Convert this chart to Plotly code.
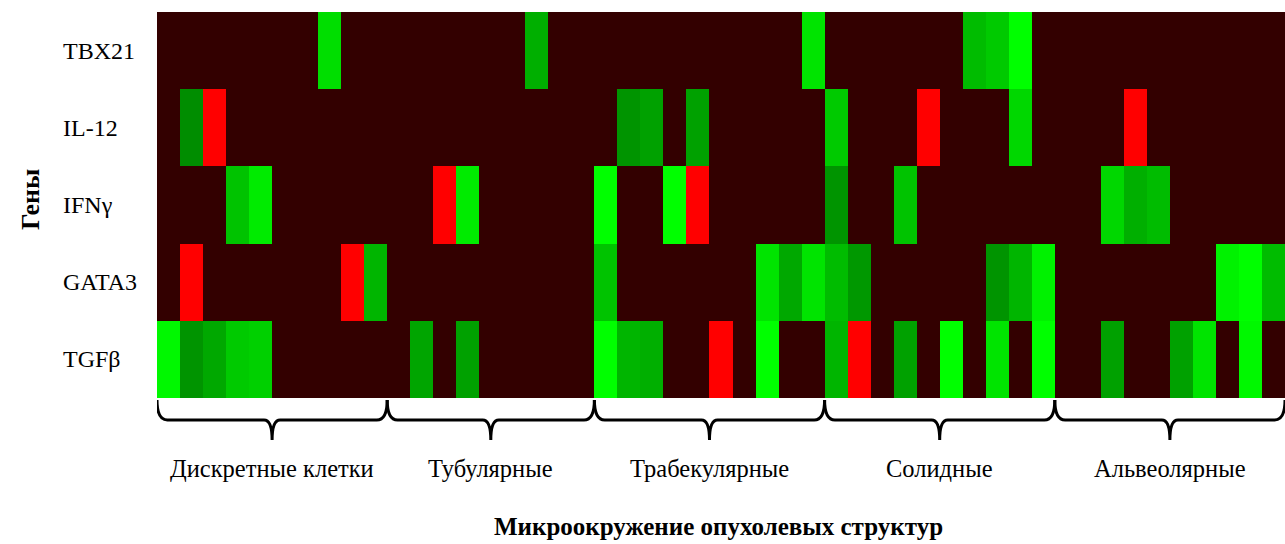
import plotly.graph_objects as go

# ---------------- data ----------------
genes = ["TBX21", "IL-12", "IFNγ", "GATA3", "TGFβ"]
groups = ["Дискретные клетки", "Тубулярные", "Трабекулярные", "Солидные", "Альвеолярные"]
group_sizes = [10, 9, 10, 10, 10]

# expression level per sample (-1 = down / red, 0 = none, 1..10 = up / green intensity)
tbx21 = ([0, 0, 0, 0, 0, 0, 0, 7.5, 0, 0] + [0, 0, 0, 0, 0, 0, 4, 0, 0] +
         [0, 0, 0, 0, 0, 0, 0, 0, 0, 8] + [0, 0, 0, 0, 0, 0, 5, 6, 10, 0] +
         [0, 0, 0, 0, 0, 0, 0, 0, 0, 0])
il12 = ([0, 1.5, -1, 0, 0, 0, 0, 0, 0, 0] + [0, 0, 0, 0, 0, 0, 0, 0, 0] +
        [0, 2, 3, 0, 3, 0, 0, 0, 0, 0] + [6, 0, 0, 0, -1, 0, 0, 0, 7, 0] +
        [0, 0, 0, -1, 0, 0, 0, 0, 0, 0])
ifng = ([0, 0, 0, 5.5, 8.5, 0, 0, 0, 0, 0] + [0, 0, -1, 8.5, 0, 0, 0, 0, 0] +
        [10, 0, 0, 10, -1, 0, 0, 0, 0, 0] + [2, 0, 0, 5.5, 0, 0, 0, 0, 0, 0] +
        [0, 0, 7, 4, 5, 0, 0, 0, 0, 0])
gata3 = ([0, -1, 0, 0, 0, 0, 0, 0, -1, 4.5] + [0, 0, 0, 0, 0, 0, 0, 0, 0] +
         [5.5, 0, 0, 0, 0, 0, 0, 8, 3.5, 8] + [5, 2.3, 0, 0, 0, 0, 0, 2, 4.5, 9] +
         [0, 0, 0, 0, 0, 0, 0, 9, 10, 5])
tgfb = ([9.5, 2, 3.5, 6, 6.5, 0, 0, 0, 0, 0] + [0, 3.3, 0, 3, 0, 0, 0, 0, 0] +
        [10, 4.5, 4, 0, 0, -1, 0, 10, 0, 0] + [4.5, -1, 0, 3, 0, 10, 0, 8, 0, 10] +
        [0, 0, 3, 0, 0, 3, 8, 0, 9.5, 0])

z = [tbx21, il12, ifng, gata3, tgfb]
n_cols = len(tbx21)
x_idx = list(range(n_cols))

# ---------------- colours ----------------
zmin, zmax = -1, 10
def nz(v):
    return (v - zmin) / (zmax - zmin)

colorscale = [
    [0.0, "#ff0000"], [nz(-0.5), "#ff0000"],
    [nz(-0.5), "#330000"], [nz(0.5), "#330000"],
    [nz(0.5), "#008000"], [1.0, "#00ff00"],
]

fig = go.Figure(go.Heatmap(
    z=z, x=x_idx, y=genes,
    zmin=zmin, zmax=zmax, colorscale=colorscale,
    showscale=False, xgap=0, ygap=0, hoverinfo="skip",
))

W, H = 1285, 544
L, R, T = 157, 0, 12
B = H - 398
plot_w = W - L - R
plot_h = H - T - B

def py(pix):  # pixel y (from top) -> paper y
    return (H - B - pix) / plot_h

def px(pix):  # pixel x -> paper x
    return (pix - L) / plot_w

serif = "Liberation Serif, Times New Roman, serif"

# gene labels (left aligned)
annotations = []
for g in genes:
    annotations.append(dict(text=g, x=px(61), xref="paper", xanchor="left",
                            y=g, yref="y", yanchor="middle", showarrow=False,
                            font=dict(family=serif, size=24, color="#000")))

# braces + group labels
shapes = []
start = -0.5
y_top, y_mid, y_bot = py(400), py(420), py(440)
for name, n in zip(groups, group_sizes):
    a, b = start, start + n
    c = (a + b) / 2
    path = (f"M {a},{y_top} Q {a},{y_mid} {a+0.45},{y_mid} "
            f"L {c-0.35},{y_mid} Q {c},{y_mid} {c},{y_bot} "
            f"Q {c},{y_mid} {c+0.35},{y_mid} "
            f"L {b-0.45},{y_mid} Q {b},{y_mid} {b},{y_top}")
    shapes.append(dict(type="path", path=path, xref="x", yref="paper",
                       line=dict(color="#000", width=3)))
    annotations.append(dict(text=name, x=c, xref="x", y=py(468), yref="paper",
                            xanchor="center", yanchor="middle", showarrow=False,
                            font=dict(family=serif, size=24.5, color="#000")))
    start = b

# axis titles
annotations.append(dict(text="<b>Микроокружение опухолевых структур</b>",
                        x=px(718), xref="paper", y=py(526), yref="paper",
                        xanchor="center", yanchor="middle", showarrow=False,
                        font=dict(family=serif, size=25, color="#000")))
annotations.append(dict(text="<b>Гены</b>", x=px(31), xref="paper",
                        y=py(200), yref="paper", textangle=-90,
                        xanchor="center", yanchor="middle", showarrow=False,
                        font=dict(family=serif, size=26, color="#000")))

fig.update_layout(
    width=W, height=H,
    margin=dict(l=L, r=R, t=T, b=B),
    paper_bgcolor="white", plot_bgcolor="white",
    xaxis=dict(range=[-0.5, n_cols - 0.5], showticklabels=False, ticks="",
               showgrid=False, zeroline=False, showline=False),
    yaxis=dict(autorange="reversed", showticklabels=False, ticks="",
               showgrid=False, zeroline=False, showline=False),
    shapes=shapes, annotations=annotations,
)

fig.write_html("out.html",
               config={"displayModeBar": False},
               post_script="document.body.style.margin='0';"
                           "document.body.style.overflow='hidden';")
